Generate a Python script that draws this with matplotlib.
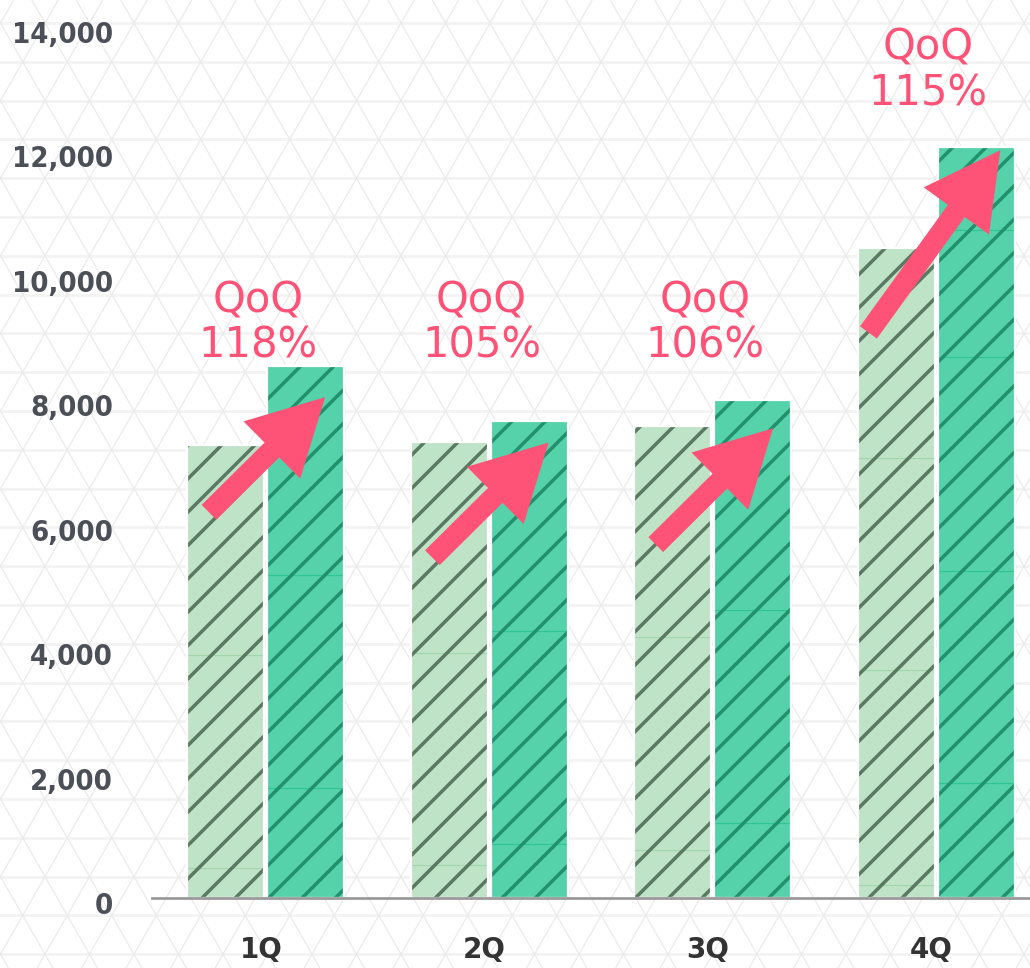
import numpy as np
import matplotlib
matplotlib.use("Agg")
import matplotlib.pyplot as plt
from matplotlib.transforms import ScaledTranslation
from matplotlib import font_manager as fm

# ---------------- data ----------------
quarters = ["1Q", "2Q", "3Q", "4Q"]
# stacked segments (bottom -> top), previous period
prev_segments = [
    [480, 3420, 3380],
    [530, 3410, 3390],
    [770, 3430, 3390],
    [210, 3460, 3400, 3380],
]
# stacked segments (bottom -> top), current period
cur_segments = [
    [1770, 3420, 3360],
    [870, 3420, 3380],
    [1210, 3420, 3370],
    [1850, 3410, 3440, 2040, 1330],
]
qoq_labels = ["118%", "105%", "106%", "115%"]
yticks = [0, 2000, 4000, 6000, 8000, 10000, 12000, 14000]
ytick_labels = ["0", "2,000", "4,000", "6,000", "8,000", "10,000", "12,000", "14,000"]

# ---------------- style ----------------
PREV_FILL = "#bfe3c6"
PREV_HATCH = "#5a7862"
PREV_LINE = "#9fd6ad"
CUR_FILL = "#55d2a9"
CUR_HATCH = "#22906c"
CUR_LINE = "#2fc592"
PINK = "#ff5277"
TICK_GRAY = "#4b5058"

plt.rcParams["hatch.linewidth"] = 2.5

# find a condensed bold face for y tick labels, if any is installed
cond = None
for f in fm.fontManager.ttflist:
    nm = f.name.lower()
    fn = f.fname.lower()
    is_cond = ("narrow" in nm or "condensed" in nm or "condensed" in fn or "narrow" in fn
               or str(f.stretch) in ("condensed", "semi-condensed", "extra-condensed"))
    is_bold = (str(f.weight) in ("bold", "700", "600", "semibold", "demibold") or
               (isinstance(f.weight, int) and f.weight >= 600) or "bold" in fn)
    if is_cond and is_bold and "oblique" not in fn and "italic" not in fn:
        cond = f.fname
        break
if cond is not None:
    ytick_font = dict(fontproperties=fm.FontProperties(fname=cond, size=21))
else:
    ytick_font = dict(family=["Liberation Sans", "DejaVu Sans"], fontweight="bold", fontsize=22)

W, H = 1030, 968
fig = plt.figure(figsize=(W / 100, H / 100), dpi=100)
fig.patch.set_facecolor("white")

# ---------- background triangular pattern ----------
bg = fig.add_axes([0, 0, 1, 1], zorder=-10)
bg.set_xlim(0, W)
bg.set_ylim(H, 0)
bg.axis("off")
row_h = 38.8
side = 44.5
k = np.arange(-2, 30)
for yy in 23 + k * row_h:
    bg.axhline(yy, color="#f3f3f3", lw=2.0, zorder=0)
slope = (side / 2) / row_h
for j in range(-40, 60):
    c = 312 + j * side
    ys = np.array([-50, H + 50])
    bg.plot(c + (ys - 23) * slope, ys, color="#ebebeb", lw=0.9, zorder=0)
    bg.plot(c - (ys - 23) * slope, ys, color="#ebebeb", lw=0.9, zorder=0)

# ---------- main axes ----------
ax_left = 152 / W
ax_bottom = (H - 898) / H
ax_top = (H - 27) / H
ax = fig.add_axes([ax_left, ax_bottom, 1 - ax_left, ax_top - ax_bottom])
ax.patch.set_alpha(0)
ax.set_ylim(0, 14000)
ax.set_xlim(-0.51, 3.42)

x = np.arange(len(quarters))
width = 0.345
off = 0.179


def draw_stack(xc, segs, fill, hatch_col, line_col):
    segs = np.asarray(segs, dtype=float)
    bottoms = np.concatenate([[0], np.cumsum(segs)[:-1]])
    ax.bar([xc] * len(segs), segs, width, bottom=bottoms, color=fill,
           edgecolor=line_col, linewidth=0.8, zorder=2)
    total = segs.sum()
    ax.bar(xc, total, width, color="none", edgecolor=hatch_col, linewidth=0,
           hatch="/", zorder=3)
    ax.bar(xc, total, width, color="none", edgecolor="white", linewidth=1.6,
           zorder=4)
    return total


prev_tot = []
cur_tot = []
for i in range(len(quarters)):
    prev_tot.append(draw_stack(x[i] - off, prev_segments[i], PREV_FILL, PREV_HATCH, PREV_LINE))
    cur_tot.append(draw_stack(x[i] + off, cur_segments[i], CUR_FILL, CUR_HATCH, CUR_LINE))

# arrows
tip_drop = [500, 350, 450, 50]
tip_dx = [0.265, 0.265, 0.27, 0.287]
run = [0.52, 0.52, 0.525, 0.59]
rise = [1850, 1850, 1870, 2930]
for i in range(len(quarters)):
    tip = (x[i] + tip_dx[i], cur_tot[i] - tip_drop[i])
    tail = (tip[0] - run[i], tip[1] - rise[i])
    ax.annotate("", xy=tip, xytext=tail,
                arrowprops=dict(arrowstyle="simple,head_length=2.7,head_width=2.9,tail_width=0.75",
                                mutation_scale=20, color=PINK, lw=0,
                                shrinkA=0, shrinkB=0),
                zorder=6)

# QoQ labels
label_y = [9240, 9240, 9240, 13300]
for i in range(len(quarters)):
    ax.text(x[i] - 0.035, label_y[i], "QoQ\n" + qoq_labels[i], ha="center", va="center",
            color=PINK, fontsize=30, linespacing=1.1, family="DejaVu Sans", zorder=7)

# axes styling
for s in ["left", "right", "top"]:
    ax.spines[s].set_visible(False)
ax.spines["bottom"].set_color("#9a9a9a")
ax.spines["bottom"].set_linewidth(2.0)
ax.spines["bottom"].set_zorder(5)

ax.set_yticks(yticks)
ax.set_yticklabels(ytick_labels, color=TICK_GRAY, **ytick_font)
ax.tick_params(axis="y", length=0, pad=28)
for lab in ax.get_yticklabels():
    lab.set_transform(lab.get_transform() + ScaledTranslation(0, -0.05, fig.dpi_scale_trans))

ax.set_xticks(x)
ax.set_xticklabels(quarters, fontsize=20, color="#333333", family="DejaVu Sans",
                   fontweight="bold")
ax.tick_params(axis="x", length=0, pad=27)
for lab in ax.get_xticklabels():
    lab.set_transform(lab.get_transform() + ScaledTranslation(-0.05, 0, fig.dpi_scale_trans))

fig.savefig("out.png", dpi=100, facecolor="white")
